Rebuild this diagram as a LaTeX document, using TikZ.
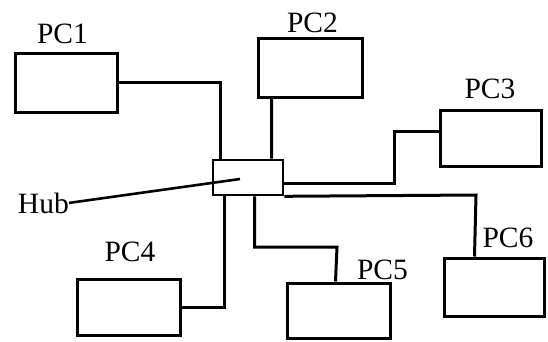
\documentclass[tikz,border=0pt]{standalone}
\usepackage{fontspec}
\setmainfont{Liberation Serif}
\usetikzlibrary{calc}
\begin{document}
\begin{tikzpicture}[x=1pt,y=-1pt,
  pcbox/.style={draw,line width=3pt,inner sep=0pt,minimum width=#1},
  pcbox/.default=102pt,
  hubbox/.style={draw,line width=2.6pt,inner sep=0pt,minimum width=70pt,minimum height=35pt},
  wire/.style={line width=3pt},
  lbl/.style={inner sep=0pt,anchor=base,font=\fontsize{29.5}{30}\selectfont}]
\useasboundingbox (0,0) rectangle (548,341);
% hub
\node[hubbox] (hub) at (248,177.5) {};
% PCs
\node[pcbox=102pt,minimum height=59pt] (pc1) at (66,82.5) {};
\node[pcbox=104pt,minimum height=59pt] (pc2) at (310,67.5) {};
\node[pcbox=101pt,minimum height=56pt] (pc3) at (490.5,138) {};
\node[pcbox=103pt,minimum height=56pt] (pc4) at (128.5,307) {};
\node[pcbox=103pt,minimum height=55pt] (pc5) at (338.5,310.5) {};
\node[pcbox=100pt,minimum height=58pt] (pc6) at (494,287) {};
% labels
\node[lbl] (l1) at (62.5,43) {PC1};
\node[lbl] (l2) at (312.5,32) {PC2};
\node[lbl] (l3) at (490,98) {PC3};
\node[lbl] (l4) at (130,261) {PC4};
\node[lbl] (l5) at (382.5,279) {PC5};
\node[lbl] (l6) at (508,247) {PC6};
\node[lbl,anchor=base east] (hl) at (69,213) {Hub};
% connectors
\coordinate (hubin) at (240,179);
\draw[line width=2.6pt] (hl.east) -- (hubin);
\draw[wire] (pc1.east) -| ($(hub.north west)+(9,0)$);
\draw[wire] ($(pc2.south west)+(15,0)$) -- ($(hub.north west)+(60,0)$);
\draw[wire] ($(hub.east)+(0,5.5)$) -- (394,183) |- ($(pc3.west)+(0,-7)$);
\draw[wire] (hub.south east) -- (476,195) -- ($(pc6.north west)+(32,0)$);
\draw[wire] ($(hub.south west)+(13,0)$) |- (pc4.east);
\draw[wire] ($(hub.south west)+(43,0)$) |- (337,247) -- ($(pc5.north west)+(50,0)$);
\end{tikzpicture}
\end{document}
